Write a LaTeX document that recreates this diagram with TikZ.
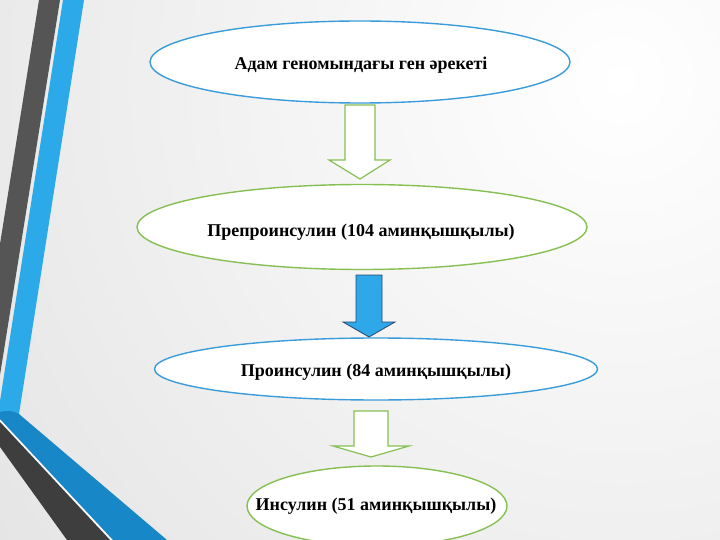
\documentclass[tikz,border=0pt]{standalone}
\usepackage{fontspec}
\setmainfont{Liberation Serif}
\usetikzlibrary{shapes.geometric}
\definecolor{bgout}{RGB}{208,208,208}
\definecolor{ellblue}{RGB}{58,157,218}
\definecolor{ellgreen}{RGB}{134,192,82}
\definecolor{stripeblue}{RGB}{43,169,232}
\definecolor{stripedark}{RGB}{85,85,85}
\definecolor{bandblue}{RGB}{24,135,200}
\definecolor{banddark}{RGB}{62,62,62}
\definecolor{arrowfill}{RGB}{46,168,232}
\definecolor{arrowline}{RGB}{40,70,110}
\begin{document}
\begin{tikzpicture}[x=1pt,y=-1pt,
  ell/.style={ellipse, fill=white, line width=1.4pt, inner sep=0pt},
  lbl/.style={font=\fontsize{18}{20}\selectfont\bfseries, inner sep=0pt},
  hollowarrow/.style={fill=white, draw=ellgreen, line width=1.2pt, line join=miter},
  fullarrow/.style={fill=arrowfill, draw=arrowline, line width=0.8pt, line join=miter}]
\useasboundingbox (0,0) rectangle (720,540);
\begin{scope}
  \clip (0,0) rectangle (720,540);
  \shade[inner color=white, outer color=bgout] (620,80) circle (1400pt);
  % left decorative stripes
  \fill[stripedark] (39,0) -- (60,0) -- (0,375) -- (0,244) -- cycle;
  \fill[stripeblue] (63,0) -- (84,0) -- (19,414) -- (0,414) -- (0,401) -- cycle;
  \fill[bandblue] (0,412) .. controls (8,410) and (14,411) .. (19,414) -- (167,540) -- (113,540) -- (0,419) -- cycle;
  \draw[white, line width=1.2pt] (0,420.5) -- (111.5,540);
  \fill[banddark] (0,422) -- (110,540) -- (67,540) -- (0,447) -- cycle;
\end{scope}

% ellipses
\node[ell, draw=ellblue, minimum width=420pt, minimum height=82pt] (e1) at (360,62) {};
\node[ell, draw=ellgreen, minimum width=450pt, minimum height=85pt] (e2) at (362,227) {};
\node[ell, draw=ellblue, minimum width=443pt, minimum height=62pt] (e3) at (376,369) {};
\node[ell, draw=ellgreen, minimum width=260pt, minimum height=80pt] (e4) at (377,506) {};

% labels
\node[lbl] (t1) at (361,65) {Адам геномындағы ген әрекеті};
\node[lbl] (t2) at (361,232) {Препроинсулин (104 аминқышқылы)};
\node[lbl] (t3) at (376,372) {Проинсулин (84 аминқышқылы)};
\node[lbl] (t4) at (376,506) {Инсулин (51 аминқышқылы)};

% block arrows
\draw[hollowarrow] (345,105) -- (345,160) -- (329,160) -- (360,179) -- (390,160) -- (375,160) -- (375,105) -- cycle;
\draw[fullarrow] (356,275) -- (356,322) -- (343,322) -- (369,337) -- (395,322) -- (382,322) -- (382,275) -- cycle;
\draw[hollowarrow] (354,411) -- (354,446) -- (333,446) -- (371,457) -- (409,446) -- (388,446) -- (388,411) -- cycle;
\end{tikzpicture}
\end{document}
